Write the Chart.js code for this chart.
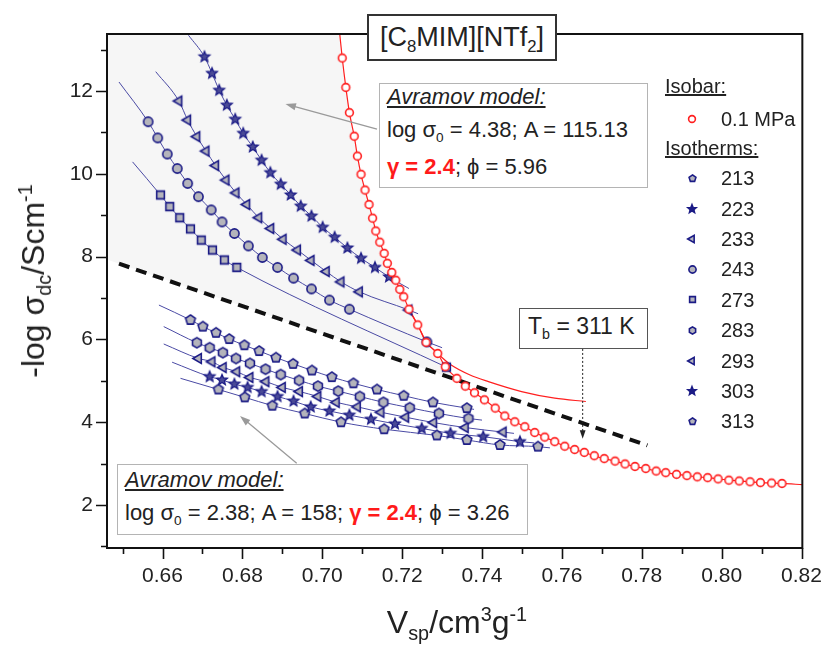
<!DOCTYPE html>
<html>
<head>
<meta charset="utf-8">
<title>[C8MIM][NTf2] - log sigma vs Vsp</title>
<script src="https://cdn.jsdelivr.net/npm/chart.js@4.4.1/dist/chart.umd.min.js"></script>
<style>
  body { margin: 0; background: #fff; }
  #wrap { position: relative; width: 827px; height: 646px; font-family: "Liberation Sans", Arial, sans-serif; color: #222; overflow: hidden; }
  #wrap canvas { position: absolute; }
  .box { position: absolute; background: #fff; box-sizing: border-box; }
  .txt { position: absolute; white-space: nowrap; line-height: 1; }
  sub { font-size: 0.62em; vertical-align: -0.35em; line-height: 0; }
  sup { font-size: 0.62em; vertical-align: 0.62em; line-height: 0; }
  .hl { color: #ff1a1a; font-weight: bold; }
  .u { text-decoration: underline; }
</style>
</head>
<body>
<div id="wrap">
  <canvas id="chart" width="827" height="646" style="left:0;top:0"></canvas>
</div>
<script>
// axis ticks
const xTicks = [0.66, 0.68, 0.70, 0.72, 0.74, 0.76, 0.78, 0.80, 0.82];
const xMinor = [0.65, 0.67, 0.69, 0.71, 0.73, 0.75, 0.77, 0.79, 0.81];
const yTicks = [2, 4, 6, 8, 10, 12];
const yMinor = [1, 3, 5, 7, 9, 11, 13];

// isobar 0.1 MPa
const redX = [0.7050, 0.7059, 0.7068, 0.7080, 0.7088, 0.7097, 0.7107, 0.7117, 0.7126, 0.7134, 0.7144, 0.7155, 0.7163, 0.7174, 0.7184, 0.7194, 0.7204, 0.7217, 0.7239, 0.7260, 0.7289, 0.7308, 0.7337, 0.7358, 0.7381, 0.7406, 0.7433, 0.7457, 0.7482, 0.7507, 0.7532, 0.7557, 0.7582, 0.7607, 0.7632, 0.7656, 0.7681, 0.7706, 0.7733, 0.7758, 0.7783, 0.7810, 0.7836, 0.7860, 0.7887, 0.7913, 0.7939, 0.7965, 0.7991, 0.8018, 0.8044, 0.8071, 0.8097, 0.8125, 0.8151];
const redY = [12.80, 12.09, 11.48, 10.91, 10.43, 9.99, 9.61, 9.26, 8.93, 8.62, 8.35, 8.08, 7.84, 7.62, 7.43, 7.21, 7.03, 6.73, 6.35, 5.93, 5.66, 5.34, 5.06, 4.87, 4.71, 4.54, 4.34, 4.15, 4.01, 3.89, 3.75, 3.64, 3.53, 3.42, 3.34, 3.27, 3.19, 3.12, 3.06, 2.99, 2.93, 2.88, 2.82, 2.78, 2.74, 2.71, 2.68, 2.66, 2.63, 2.60, 2.58, 2.56, 2.54, 2.53, 2.52];
const redEnds = [[0.7043, 13.45], [0.8202, 2.49]];
// Avramov fit for the isobar (leaves the points near 0.73)
const redModelX = [0.7217, 0.7239, 0.7260, 0.7289, 0.7320, 0.7370, 0.7416, 0.7499, 0.7582, 0.7660];
const redModelY = [6.73, 6.35, 5.95, 5.66, 5.40, 5.14, 4.98, 4.74, 4.58, 4.50];

// isotherms, upper set
const t223X = [0.6705, 0.6724, 0.6742, 0.6761, 0.6782, 0.6802, 0.6826, 0.6848, 0.6870, 0.6896, 0.6921, 0.6946, 0.6973, 0.7001, 0.7031, 0.7063, 0.7097, 0.7132, 0.7167];
const t223Y = [12.83, 12.43, 12.02, 11.66, 11.32, 10.98, 10.65, 10.33, 10.03, 9.75, 9.49, 9.22, 8.98, 8.71, 8.47, 8.21, 7.96, 7.74, 7.51];
const t223Ends = [[0.6665, 13.35], [0.7217, 7.23]];

const t233X = [0.6641, 0.6663, 0.6686, 0.6709, 0.6733, 0.6759, 0.6784, 0.6811, 0.6841, 0.6871, 0.6902, 0.6938, 0.6972, 0.7010, 0.7047, 0.7093, 0.7217];
const t233Y = [11.76, 11.30, 10.90, 10.55, 10.20, 9.85, 9.54, 9.26, 8.94, 8.68, 8.42, 8.16, 7.91, 7.64, 7.39, 7.15, 6.71];
const t233Ends = [[0.6583, 12.47], [0.7240, 6.62]];

const t243X = [0.6564, 0.6588, 0.6612, 0.6637, 0.6663, 0.6690, 0.6722, 0.6749, 0.6780, 0.6815, 0.6850, 0.6888, 0.6928, 0.6973, 0.7018, 0.7068, 0.7262];
const t243Y = [11.26, 10.87, 10.48, 10.13, 9.77, 9.45, 9.13, 8.84, 8.56, 8.26, 7.98, 7.74, 7.48, 7.22, 6.95, 6.73, 5.94];
const t243Ends = [[0.6491, 12.22], [0.7300, 5.80]];

const t273X = [0.6595, 0.6618, 0.6643, 0.6670, 0.6697, 0.6725, 0.6755, 0.6786, 0.7311];
const t273Y = [9.49, 9.21, 8.94, 8.67, 8.40, 8.16, 7.92, 7.74, 5.33];
const t273Ends = [[0.6525, 10.29], [0.7320, 5.29]];

// isotherms, lower set
const t213X = [0.6670, 0.6701, 0.6734, 0.6767, 0.6805, 0.6842, 0.6884, 0.6927, 0.6974, 0.7024, 0.7078, 0.7137, 0.7204, 0.7277, 0.7362];
const t213Y = [6.47, 6.31, 6.16, 6.01, 5.86, 5.72, 5.56, 5.41, 5.25, 5.09, 4.94, 4.79, 4.64, 4.48, 4.34];
const t213Ends = [[0.6591, 6.83], [0.7380, 4.31]];

const t283X = [0.6686, 0.6718, 0.6751, 0.6784, 0.6819, 0.6858, 0.6896, 0.6942, 0.6989, 0.7040, 0.7094, 0.7153, 0.7219, 0.7292, 0.7366];
const t283Y = [5.92, 5.80, 5.68, 5.54, 5.42, 5.28, 5.15, 5.01, 4.87, 4.75, 4.62, 4.48, 4.35, 4.21, 4.09];
const t283Ends = [[0.6603, 6.31], [0.7400, 4.05]];

const t293X = [0.6690, 0.6724, 0.6752, 0.6786, 0.6819, 0.6859, 0.6900, 0.6943, 0.6989, 0.7035, 0.7088, 0.7147, 0.7209, 0.7279, 0.7358, 0.7453];
const t293Y = [5.54, 5.46, 5.32, 5.22, 5.08, 4.98, 4.84, 4.74, 4.62, 4.48, 4.37, 4.24, 4.12, 3.99, 3.87, 3.76];
const t293Ends = [[0.6603, 5.89], [0.7480, 3.73]];

const t303X = [0.6718, 0.6749, 0.6780, 0.6813, 0.6848, 0.6888, 0.6928, 0.6971, 0.7018, 0.7068, 0.7122, 0.7182, 0.7249, 0.7321, 0.7403, 0.7495];
const t303Y = [5.10, 5.02, 4.92, 4.84, 4.74, 4.62, 4.51, 4.37, 4.27, 4.17, 4.07, 3.96, 3.85, 3.73, 3.65, 3.53];
const t303Ends = [[0.6624, 5.45], [0.7530, 3.50]];

const t313X = [0.6740, 0.6806, 0.6875, 0.6956, 0.7047, 0.7155, 0.7287, 0.7362, 0.7445, 0.7540];
const t313Y = [4.79, 4.60, 4.40, 4.21, 4.00, 3.83, 3.68, 3.57, 3.45, 3.41];
const t313Ends = [[0.6645, 5.06], [0.7570, 3.38]];

// dashed border line, T_b marker and the two pointer arrows
const dashX = [0.6491, 0.7814];
const dashY = [7.83, 3.44];
const tbX = [0.7652, 0.7652];
const tbY = [5.77, 3.60];
const arrowUpX = [0.7137, 0.6908];
const arrowUpY = [11.08, 11.69];
const arrowLowX = [0.6936, 0.6794];
const arrowLowY = [3.01, 4.15];

const legendTemps = ['213', '223', '233', '243', '273', '283', '293', '303', '313'];
const legendShapes = ['pentagon', 'star', 'triLeft', 'circle', 'square', 'hexagon', 'triLeft', 'star', 'pentagon'];

const navy = '#1b1b86';
const grayFill = '#b4b4bb';
const fitBlue = '#4a4aa4';
const red = '#ff1f1f';

function makeMarker(shape, r, fill, stroke, lw) {
    const size = Math.ceil(2 * r + 2 * lw + 2);
    const c = document.createElement('canvas');
    c.width = size;
    c.height = size;
    const g = c.getContext('2d');
    const m = size / 2;
    g.beginPath();
    if (shape === 'circle') {
        g.arc(m, m, r, 0, 2 * Math.PI);
    } else if (shape === 'square') {
        g.rect(m - r * 0.8, m - r * 0.8, r * 1.6, r * 1.6);
    } else {
        let n = 5, a0 = -Math.PI / 2, inner = 0;
        if (shape === 'hexagon') { n = 6; }
        if (shape === 'triLeft') { n = 3; a0 = Math.PI; }
        if (shape === 'star') { inner = 0.45; }
        const steps = inner ? n * 2 : n;
        for (let i = 0; i < steps; i++) {
            const rr = inner && i % 2 ? r * inner : r;
            const a = a0 + i * 2 * Math.PI / steps;
            if (i === 0) g.moveTo(m + rr * Math.cos(a), m + rr * Math.sin(a));
            else g.lineTo(m + rr * Math.cos(a), m + rr * Math.sin(a));
        }
        g.closePath();
    }
    g.fillStyle = fill;
    g.fill();
    g.lineWidth = lw;
    g.strokeStyle = stroke;
    g.stroke();
    return c;
}

function plotMarker(shape) {
    if (shape === 'star') return makeMarker('star', 5.6, '#4a4a96', navy, 1.3);
    if (shape === 'triLeft') return makeMarker('triLeft', 5.6, grayFill, navy, 1.6);
    if (shape === 'square') return makeMarker('square', 4.8, grayFill, navy, 1.6);
    if (shape === 'circle') return makeMarker('circle', 4.6, grayFill, navy, 1.6);
    return makeMarker(shape, 5.1, grayFill, navy, 1.6);
}

function pts(xs, ys) {
    return xs.map((x, i) => ({ x: x, y: ys[i] }));
}

function withEnds(xs, ys, ends) {
    return [{ x: ends[0][0], y: ends[0][1] }].concat(pts(xs, ys), [{ x: ends[1][0], y: ends[1][1] }]);
}

const isotherms = [
    { label: '223', xs: t223X, ys: t223Y, ends: t223Ends, shape: 'star' },
    { label: '233', xs: t233X, ys: t233Y, ends: t233Ends, shape: 'triLeft' },
    { label: '243', xs: t243X, ys: t243Y, ends: t243Ends, shape: 'circle' },
    { label: '273', xs: t273X, ys: t273Y, ends: t273Ends, shape: 'square' },
    { label: '213', xs: t213X, ys: t213Y, ends: t213Ends, shape: 'pentagon' },
    { label: '283', xs: t283X, ys: t283Y, ends: t283Ends, shape: 'hexagon' },
    { label: '293', xs: t293X, ys: t293Y, ends: t293Ends, shape: 'triLeft' },
    { label: '303', xs: t303X, ys: t303Y, ends: t303Ends, shape: 'star' },
    { label: '313', xs: t313X, ys: t313Y, ends: t313Ends, shape: 'pentagon' }
];

const datasets = [];
isotherms.forEach(s => {
    datasets.push({
        label: s.label + ' fit',
        data: withEnds(s.xs, s.ys, s.ends),
        showLine: true,
        cubicInterpolationMode: 'monotone',
        borderColor: fitBlue,
        borderWidth: 1,
        pointRadius: 0,
        order: 6
    });
    datasets.push({
        label: s.label,
        data: pts(s.xs, s.ys),
        showLine: false,
        pointStyle: plotMarker(s.shape),
        order: 2
    });
});
datasets.push({
    label: 'dashed',
    data: pts(dashX, dashY),
    showLine: true,
    borderColor: '#111',
    borderWidth: 4,
    borderDash: [11, 7],
    pointRadius: 0,
    order: 3
});
datasets.push({
    label: 'isobar fit',
    data: withEnds(redX, redY, redEnds),
    showLine: true,
    cubicInterpolationMode: 'monotone',
    borderColor: red,
    borderWidth: 1.2,
    pointRadius: 0,
    order: 5
});
datasets.push({
    label: 'isobar model',
    data: pts(redModelX, redModelY),
    showLine: true,
    cubicInterpolationMode: 'monotone',
    borderColor: red,
    borderWidth: 1.2,
    pointRadius: 0,
    order: 5
});
datasets.push({
    label: '0.1 MPa',
    data: pts(redX, redY),
    showLine: false,
    pointStyle: makeMarker('circle', 3.9, '#fff', red, 1.6),
    order: 0
});

// light grey area above the dashed line and left of the isobar
const shadePlugin = {
    id: 'shade',
    beforeDatasetsDraw(chart) {
        const { ctx, chartArea: a, scales: { x, y } } = chart;
        const slope = (dashY[1] - dashY[0]) / (dashX[1] - dashX[0]);
        const dy = v => dashY[0] + slope * (v - dashX[0]);
        let k = 0;
        while (k < redX.length && redY[k] > dy(redX[k])) k++;
        const d0 = redY[k - 1] - dy(redX[k - 1]);
        const d1 = redY[k] - dy(redX[k]);
        const t = d0 / (d0 - d1);
        const xi = redX[k - 1] + t * (redX[k] - redX[k - 1]);
        const yi = redY[k - 1] + t * (redY[k] - redY[k - 1]);
        ctx.save();
        ctx.beginPath();
        ctx.rect(a.left, a.top, a.width, a.height);
        ctx.clip();
        ctx.beginPath();
        ctx.moveTo(a.left, a.top);
        ctx.lineTo(a.left, y.getPixelForValue(dy(x.min)));
        ctx.lineTo(x.getPixelForValue(xi), y.getPixelForValue(yi));
        for (let i = k - 1; i >= 0; i--) {
            ctx.lineTo(x.getPixelForValue(redX[i]), y.getPixelForValue(redY[i]));
        }
        ctx.lineTo(x.getPixelForValue(redEnds[0][0]), y.getPixelForValue(redEnds[0][1]));
        ctx.lineTo(x.getPixelForValue(redEnds[0][0]), a.top);
        ctx.closePath();
        ctx.fillStyle = '#f6f6f6';
        ctx.fill();
        ctx.restore();
    }
};

function drawArrow(ctx, x0, y0, x1, y1, color, width, head) {
    const ang = Math.atan2(y1 - y0, x1 - x0);
    ctx.strokeStyle = color;
    ctx.lineWidth = width;
    ctx.beginPath();
    ctx.moveTo(x0, y0);
    ctx.lineTo(x1 - head * 0.8 * Math.cos(ang), y1 - head * 0.8 * Math.sin(ang));
    ctx.stroke();
    ctx.setLineDash([]);
    ctx.fillStyle = color;
    ctx.beginPath();
    ctx.moveTo(x1, y1);
    ctx.lineTo(x1 - head * Math.cos(ang - 0.33), y1 - head * Math.sin(ang - 0.33));
    ctx.lineTo(x1 - head * Math.cos(ang + 0.33), y1 - head * Math.sin(ang + 0.33));
    ctx.closePath();
    ctx.fill();
}

const arrowPlugin = {
    id: 'arrows',
    afterDatasetsDraw(chart) {
        const { ctx, scales: { x, y } } = chart;
        ctx.save();
        drawArrow(ctx, x.getPixelForValue(arrowUpX[0]), y.getPixelForValue(arrowUpY[0]),
            x.getPixelForValue(arrowUpX[1]), y.getPixelForValue(arrowUpY[1]), '#9a9a9a', 1.3, 11);
        drawArrow(ctx, x.getPixelForValue(arrowLowX[0]), y.getPixelForValue(arrowLowY[0]),
            x.getPixelForValue(arrowLowX[1]), y.getPixelForValue(arrowLowY[1]), '#9a9a9a', 1.3, 11);
        ctx.setLineDash([2, 2]);
        drawArrow(ctx, x.getPixelForValue(tbX[0]), y.getPixelForValue(tbY[0]),
            x.getPixelForValue(tbX[1]), y.getPixelForValue(tbY[1]), '#222', 1, 9);
        ctx.restore();
    }
};

// frame plus major / minor tick marks
const framePlugin = {
    id: 'frame',
    afterDraw(chart) {
        const { ctx, chartArea: a, scales: { x, y } } = chart;
        ctx.save();
        ctx.strokeStyle = '#111';
        ctx.lineWidth = 2;
        ctx.strokeRect(a.left, a.top, a.width, a.height);
        ctx.lineWidth = 1.6;
        ctx.beginPath();
        xTicks.concat(xMinor).forEach(v => {
            const px = Math.round(x.getPixelForValue(v)) + 0.5;
            ctx.moveTo(px, a.bottom);
            ctx.lineTo(px, a.bottom + (xTicks.includes(v) ? 11 : 6));
        });
        yTicks.concat(yMinor).forEach(v => {
            const py = Math.round(y.getPixelForValue(v)) + 0.5;
            ctx.moveTo(a.left, py);
            ctx.lineTo(a.left - (yTicks.includes(v) ? 11 : 6), py);
        });
        ctx.stroke();
        ctx.restore();
    }
};

Chart.defaults.font.family = '"Liberation Sans", Arial, sans-serif';
Chart.defaults.color = '#222';

new Chart(document.getElementById('chart'), {
    type: 'scatter',
    data: { datasets: datasets },
    options: {
        responsive: false,
        animation: false,
        events: [],
        layout: { padding: { left: 0, top: 34, right: 20, bottom: 0 } },
        plugins: { legend: { display: false }, tooltip: { enabled: false } },
        scales: {
            x: {
                type: 'linear',
                min: 0.6461,
                max: 0.8202,
                afterBuildTicks: s => { s.ticks = xTicks.map(v => ({ value: v })); },
                afterFit: s => { s.height = 98; },
                grid: { display: false, tickLength: 11 },
                border: { display: false },
                ticks: { callback: v => v.toFixed(2), padding: 5, font: { size: 21 }, maxRotation: 0, autoSkip: false }
            },
            y: {
                type: 'linear',
                min: 0.96,
                max: 13.38,
                afterBuildTicks: s => { s.ticks = yTicks.map(v => ({ value: v })); },
                afterFit: s => { s.width = 107; },
                grid: { display: false, tickLength: 11 },
                border: { display: false },
                ticks: { callback: v => String(v), padding: 3, font: { size: 21 } }
            }
        }
    },
    plugins: [shadePlugin, arrowPlugin, framePlugin]
});

// text overlays
const wrap = document.getElementById('wrap');

function addBox(left, top, width, height, border) {
    const d = document.createElement('div');
    d.className = 'box';
    d.style.cssText = `left:${left}px;top:${top}px;width:${width}px;height:${height}px;border:${border}`;
    wrap.appendChild(d);
}

function addText(html, x, baseline, size, extra) {
    const d = document.createElement('div');
    d.className = 'txt';
    d.innerHTML = html;
    d.style.cssText = `left:${x}px;top:${(baseline - 0.8465 * size).toFixed(1)}px;font-size:${size}px;` + (extra || '');
    wrap.appendChild(d);
    return d;
}

function addIcon(canvas, cx, cy) {
    canvas.style.left = (cx - canvas.width / 2) + 'px';
    canvas.style.top = (cy - canvas.height / 2) + 'px';
    wrap.appendChild(canvas);
}

// title
addBox(367, 14, 190, 47, '2px solid #333');
addText('[C<sub>8</sub>MIM][NTf<sub>2</sub>]', 462, 47, 27, 'transform:translateX(-50%)');

// Avramov boxes
addBox(379, 83, 269, 105, '1.5px solid #b4b4b4');
addText('<i class="u">Avramov model:</i>', 387, 105, 22);
addText('log σ<sub>0</sub> = 4.38; A = 115.13', 387, 138, 22);
addText('<span class="hl">γ = 2.4</span>; ϕ = 5.96', 387, 175, 22);

addBox(117, 464, 411, 71, '1.5px solid #b4b4b4');
addText('<i class="u">Avramov model:</i>', 125, 488, 22);
addText('log σ<sub>0</sub> = 2.38; A = 158; <span class="hl">γ = 2.4</span>; ϕ = 3.26', 125, 521, 22);

// T_b box
addBox(519, 308, 129, 41, '1.5px solid #555');
addText('T<sub>b</sub> = 311 K', 528, 334, 23);

// legend
addText('<span class="u">Isobar:</span>', 665, 93, 20);
addIcon(makeMarker('circle', 3.4, '#fff', red, 1.6), 692, 119);
addText('0.1 MPa', 721, 125.5, 20);
addText('<span class="u">Isotherms:</span>', 665, 155, 20);
legendTemps.forEach((t, i) => {
    const cy = 178.3 + i * 30.4;
    const r = legendShapes[i] === 'star' || legendShapes[i] === 'triLeft' ? 4.3 : 3.6;
    const fill = legendShapes[i] === 'star' ? navy : grayFill;
    addIcon(makeMarker(legendShapes[i], r, fill, navy, 1.6), 692, cy);
    addText(t, 721, cy + 6.7, 20);
});

// axis titles
addText('V<sub>sp</sub>/cm<sup>3</sup>g<sup>-1</sup>', 457, 633, 32, 'transform:translateX(-50%)');
const yt = addText('-log σ<sub>dc</sub>/Scm<sup>-1</sup>', 0, 0, 32, '');
yt.style.left = '33px';
yt.style.top = '281px';
yt.style.transform = 'translate(-50%, -50%) rotate(-90deg)';
</script>
</body>
</html>
